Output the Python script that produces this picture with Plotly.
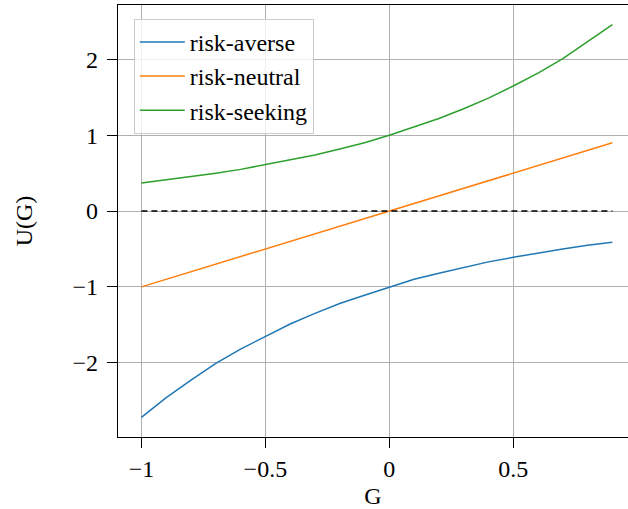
import plotly.graph_objects as go

G = [-1.0, -0.9, -0.8, -0.7, -0.6, -0.5, -0.4, -0.3, -0.2, -0.1,
     0.0, 0.1, 0.2, 0.3, 0.4, 0.5, 0.6, 0.7, 0.8, 0.9]
risk_averse = [-2.72, -2.46, -2.23, -2.01, -1.82, -1.65, -1.49, -1.35, -1.22, -1.11,
               -1.00, -0.90, -0.82, -0.74, -0.67, -0.61, -0.55, -0.50, -0.45, -0.41]
risk_neutral = [-1.0, -0.9, -0.8, -0.7, -0.6, -0.5, -0.4, -0.3, -0.2, -0.1,
                0.0, 0.1, 0.2, 0.3, 0.4, 0.5, 0.6, 0.7, 0.8, 0.9]
risk_seeking = [0.37, 0.41, 0.45, 0.50, 0.55, 0.61, 0.67, 0.74, 0.82, 0.90,
                1.00, 1.11, 1.22, 1.35, 1.49, 1.65, 1.82, 2.01, 2.23, 2.46]
zero_line = [0.0] * len(G)

x_ticks = [-1, -0.5, 0, 0.5]
x_tick_text = ["−1", "−0.5", "0", "0.5"]
y_ticks = [-2, -1, 0, 1, 2]
y_tick_text = ["−2", "−1", "0", "1", "2"]

FONT = "Liberation Serif"

fig = go.Figure()
fig.add_trace(go.Scatter(x=G, y=risk_averse, mode="lines", name="risk-averse",
                         line=dict(color="#1f77b4", width=1.5)))
fig.add_trace(go.Scatter(x=G, y=risk_neutral, mode="lines", name="risk-neutral",
                         line=dict(color="#ff7f0e", width=1.5)))
fig.add_trace(go.Scatter(x=G, y=risk_seeking, mode="lines", name="risk-seeking",
                         line=dict(color="#2ca02c", width=1.5)))
fig.add_trace(go.Scatter(x=G, y=zero_line, mode="lines", showlegend=False,
                         line=dict(color="black", width=1.5, dash="6px,4px")))

fig.update_layout(
    width=628, height=509,
    margin=dict(l=118, r=0, t=5, b=72),
    paper_bgcolor="white", plot_bgcolor="white",
    font=dict(family=FONT, size=24, color="black"),
    legend=dict(x=0.031, y=0.968, xanchor="left", yanchor="top",
                bgcolor="rgba(255,255,255,0.8)", bordercolor="#cccccc", borderwidth=1,
                font=dict(family=FONT, size=24), tracegroupgap=0, itemwidth=45),
    xaxis=dict(range=[-1.0945, 0.963], tickvals=x_ticks, ticktext=x_tick_text,
               automargin=False,
               showgrid=True, gridcolor="#b0b0b0", gridwidth=1,
               showline=True, linecolor="black", linewidth=1.2, mirror=True,
               ticks="outside", ticklen=10, tickwidth=1.2, tickcolor="black",
               zeroline=False, tickfont=dict(size=24),
               title=dict(text="G", font=dict(family=FONT, size=24), standoff=6)),
    yaxis=dict(range=[-2.98, 2.718], tickvals=y_ticks, ticktext=y_tick_text,
               automargin=False, ticklabelstandoff=4,
               showgrid=True, gridcolor="#b0b0b0", gridwidth=1,
               showline=True, linecolor="black", linewidth=1.2,
               ticks="outside", ticklen=10, tickwidth=1.2, tickcolor="black",
               zeroline=False, tickfont=dict(size=24),
               title=dict(text="U(G)", font=dict(family=FONT, size=24), standoff=33)),
)

fig.write_html("out.html", config={"displayModeBar": False},
               post_script="document.body.style.margin='0';document.body.style.overflow='hidden';")
